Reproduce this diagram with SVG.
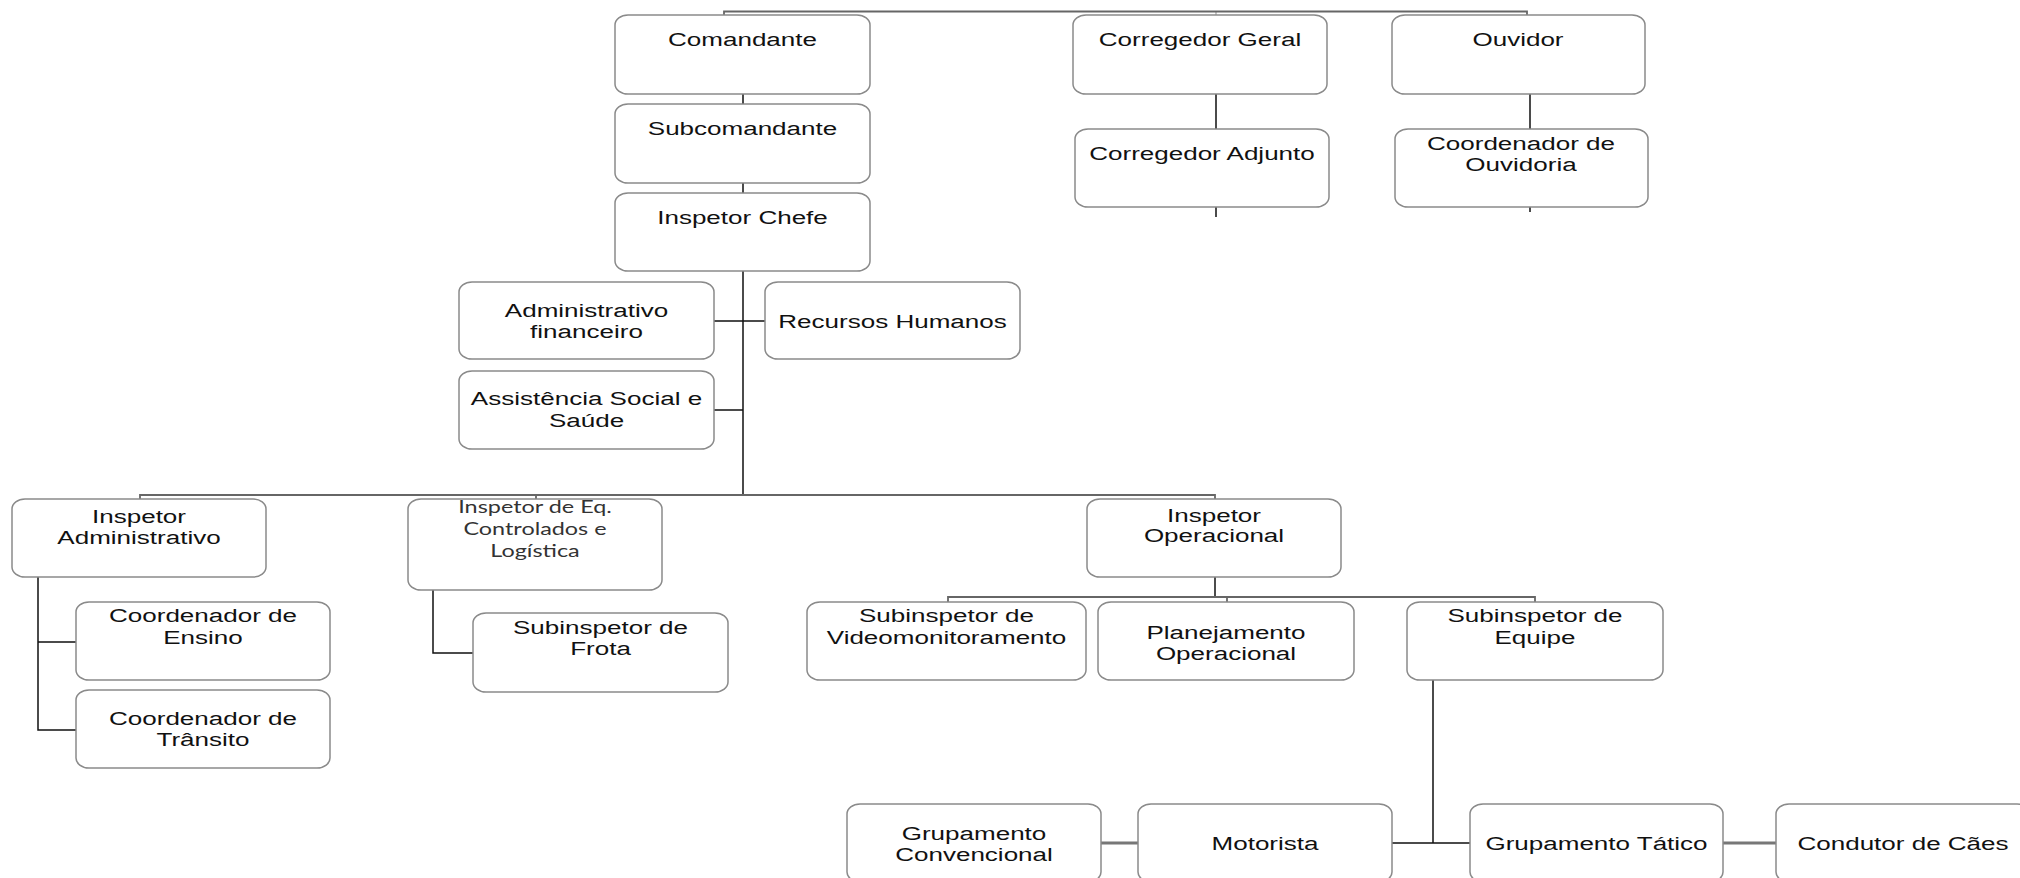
<svg xmlns="http://www.w3.org/2000/svg" width="2020" height="878" viewBox="0 0 2020 878">
<style>
.box{fill:#fff;stroke:#8a8a8a;stroke-width:1.5}
.t{font-family:"Liberation Sans",Arial,sans-serif;font-size:19px;fill:#111;text-anchor:middle}
.c{font-family:Lato,"Open Sans",sans-serif;font-size:18px;fill:#333;text-anchor:middle}
.ln{fill:none;stroke:#111;stroke-width:1.5}
.lg{fill:none;stroke:#666;stroke-width:1.8}
.lg2{fill:none;stroke:#777;stroke-width:3}
</style>
<rect width="2020" height="878" fill="#fff"/>
<g id="connectors">
<path class="lg" d="M724 15 V11.5 H1527 V15"/>
<path class="lg" d="M1216 11.5 V15" stroke-opacity="0.4"/>
<path class="ln" d="M743 94 V104 M743 183 V193 M743 271 V495"/>
<path class="ln" d="M1216 94 V129 M1216 207 V217 M1530 94 V129 M1530 207 V212"/>
<path class="ln" d="M714 321 H765 M714 410 H743"/>
<path class="lg" d="M140 499 V495 H1215 V499 M536 495 V499"/>
<path class="ln" d="M38 577 V730 H76 M38 642 H76"/>
<path class="ln" d="M433 590 V653 H473"/>
<path class="ln" d="M1215 577 V597"/>
<path class="lg" d="M948 602 V597 H1535 V602 M1227 597 V602"/>
<path class="ln" d="M1433 680 V843 M1392 843 H1470"/>
<path class="lg2" d="M1101 843 H1138 M1723 843 H1776"/>
</g>
<g id="comandante"><rect class="box" x="615" y="15" width="255" height="79" rx="13" ry="10"/><text class="t" transform="translate(742.5 46) scale(1.37 1)">Comandante</text></g>
<g id="subcomandante"><rect class="box" x="615" y="104" width="255" height="79" rx="13" ry="10"/><text class="t" transform="translate(742.5 135) scale(1.37 1)">Subcomandante</text></g>
<g id="inspetor-chefe"><rect class="box" x="615" y="193" width="255" height="78" rx="13" ry="10"/><text class="t" transform="translate(742.5 224) scale(1.37 1)">Inspetor Chefe</text></g>
<g id="corregedor-geral"><rect class="box" x="1073" y="15" width="254" height="79" rx="13" ry="10"/><text class="t" transform="translate(1200 46) scale(1.37 1)">Corregedor Geral</text></g>
<g id="ouvidor"><rect class="box" x="1392" y="15" width="253" height="79" rx="13" ry="10"/><text class="t" transform="translate(1518 46) scale(1.37 1)">Ouvidor</text></g>
<g id="corregedor-adjunto"><rect class="box" x="1075" y="129" width="254" height="78" rx="13" ry="10"/><text class="t" transform="translate(1202 160) scale(1.37 1)">Corregedor Adjunto</text></g>
<g id="coordenador-ouvidoria"><rect class="box" x="1395" y="129" width="253" height="78" rx="13" ry="10"/><text class="t" transform="translate(1521 0) scale(1.37 1)"><tspan x="0" y="150">Coordenador de</tspan><tspan x="0" y="171">Ouvidoria</tspan></text></g>
<g id="administrativo-financeiro"><rect class="box" x="459" y="282" width="255" height="77" rx="13" ry="10"/><text class="t" transform="translate(586.5 0) scale(1.37 1)"><tspan x="0" y="317">Administrativo</tspan><tspan x="0" y="338">financeiro</tspan></text></g>
<g id="recursos-humanos"><rect class="box" x="765" y="282" width="255" height="77" rx="13" ry="10"/><text class="t" transform="translate(892.5 328) scale(1.37 1)">Recursos Humanos</text></g>
<g id="assistencia-social"><rect class="box" x="459" y="371" width="255" height="78" rx="13" ry="10"/><text class="t" transform="translate(586.5 0) scale(1.37 1)"><tspan x="0" y="405">Assistência Social e</tspan><tspan x="0" y="427">Saúde</tspan></text></g>
<g id="inspetor-administrativo"><rect class="box" x="12" y="499" width="254" height="78" rx="13" ry="10"/><text class="t" transform="translate(139 0) scale(1.37 1)"><tspan x="0" y="523">Inspetor</tspan><tspan x="0" y="544">Administrativo</tspan></text></g>
<g id="inspetor-eq"><rect class="box" x="408" y="499" width="254" height="91" rx="13" ry="10"/><text class="c" transform="translate(535 0) scale(1.3 1)"><tspan x="0" y="513">Inspetor de Eq.</tspan><tspan x="0" y="535">Controlados e</tspan><tspan x="0" y="557">Logística</tspan></text></g>
<g id="coordenador-ensino"><rect class="box" x="76" y="602" width="254" height="78" rx="13" ry="10"/><text class="t" transform="translate(203 0) scale(1.37 1)"><tspan x="0" y="622">Coordenador de</tspan><tspan x="0" y="644">Ensino</tspan></text></g>
<g id="coordenador-transito"><rect class="box" x="76" y="690" width="254" height="78" rx="13" ry="10"/><text class="t" transform="translate(203 0) scale(1.37 1)"><tspan x="0" y="725">Coordenador de</tspan><tspan x="0" y="746">Trânsito</tspan></text></g>
<g id="subinspetor-frota"><rect class="box" x="473" y="613" width="255" height="79" rx="13" ry="10"/><text class="t" transform="translate(600.5 0) scale(1.37 1)"><tspan x="0" y="634">Subinspetor de</tspan><tspan x="0" y="655">Frota</tspan></text></g>
<g id="inspetor-operacional"><rect class="box" x="1087" y="499" width="254" height="78" rx="13" ry="10"/><text class="t" transform="translate(1214 0) scale(1.37 1)"><tspan x="0" y="522">Inspetor</tspan><tspan x="0" y="542">Operacional</tspan></text></g>
<g id="subinspetor-video"><rect class="box" x="807" y="602" width="279" height="78" rx="13" ry="10"/><text class="t" transform="translate(946.5 0) scale(1.37 1)"><tspan x="0" y="622">Subinspetor de</tspan><tspan x="0" y="644">Videomonitoramento</tspan></text></g>
<g id="planejamento-operacional"><rect class="box" x="1098" y="602" width="256" height="78" rx="13" ry="10"/><text class="t" transform="translate(1226 0) scale(1.37 1)"><tspan x="0" y="639">Planejamento</tspan><tspan x="0" y="660">Operacional</tspan></text></g>
<g id="subinspetor-equipe"><rect class="box" x="1407" y="602" width="256" height="78" rx="13" ry="10"/><text class="t" transform="translate(1535 0) scale(1.37 1)"><tspan x="0" y="622">Subinspetor de</tspan><tspan x="0" y="644">Equipe</tspan></text></g>
<g id="grupamento-convencional"><rect class="box" x="847" y="804" width="254" height="78" rx="13" ry="10"/><text class="t" transform="translate(974 0) scale(1.37 1)"><tspan x="0" y="840">Grupamento</tspan><tspan x="0" y="861">Convencional</tspan></text></g>
<g id="motorista"><rect class="box" x="1138" y="804" width="254" height="78" rx="13" ry="10"/><text class="t" transform="translate(1265 850) scale(1.37 1)">Motorista</text></g>
<g id="grupamento-tatico"><rect class="box" x="1470" y="804" width="253" height="78" rx="13" ry="10"/><text class="t" transform="translate(1596.5 850) scale(1.37 1)">Grupamento Tático</text></g>
<g id="condutor-caes"><rect class="box" x="1776" y="804" width="254" height="78" rx="13" ry="10"/><text class="t" transform="translate(1903 850) scale(1.37 1)">Condutor de Cães</text></g>
</svg>
